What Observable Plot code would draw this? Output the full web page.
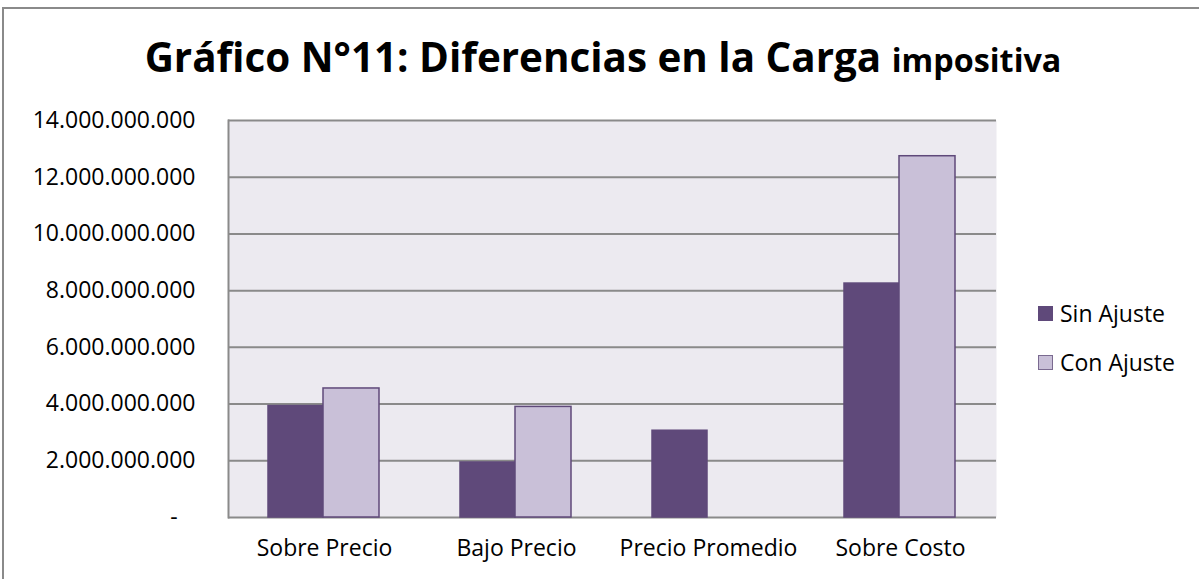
<!DOCTYPE html>
<html>
<head>
<meta charset="utf-8">
<script src="https://cdn.jsdelivr.net/npm/d3@7"></script>
<script src="https://cdn.jsdelivr.net/npm/@observablehq/plot@0.6"></script>
<style>
  html, body { margin: 0; padding: 0; background: #ffffff; overflow: hidden; }
  #wrap { position: relative; width: 1199px; height: 579px; overflow: hidden; font-family: "Open Sans", sans-serif; background: #fff; }
  #borderLeft { position: absolute; left: 2px; top: 7px; width: 2px; height: 600px; background: #8a8a8a; }
  #borderTop { position: absolute; left: 2px; top: 7px; width: 1197px; height: 2px; background: #8a8a8a; }
  #chart { position: absolute; left: 0; top: 0; }
  #title { position: absolute; left: 0; width: 1199px; top: 0; text-align: center; font-weight: 700; color: #000; white-space: nowrap; line-height: 1; }
  #title .small { font-size: 0.8em; }
  .leg { position: absolute; left: 1038px; font-size: 23px; line-height: 24px; height: 24px; color: #000; white-space: nowrap; }
  .leg .sw { display: inline-block; width: 15px; height: 15px; box-sizing: border-box; vertical-align: middle; margin-right: 7px; position: relative; top: -2px; }
</style>
</head>
<body>
<div id="wrap">
  <div id="title"><span id="titleText">Gráfico N°11: Diferencias en la Carga <span class="small">impositiva</span></span></div>
  <div id="chart"></div>
  <div id="legend"></div>
  <div id="borderLeft"></div>
  <div id="borderTop"></div>
</div>
<script>
// ---- Data ----
const categories = ["Sobre Precio", "Bajo Precio", "Precio Promedio", "Sobre Costo"];
const seriesNames = ["Sin Ajuste", "Con Ajuste"];
const sinAjuste = [3930000000, 1940000000, 3060000000, 8250000000];
const conAjuste = [4550000000, 3900000000, null, 12740000000];
const yTicks = [0, 2000000000, 4000000000, 6000000000, 8000000000, 10000000000, 12000000000, 14000000000];

// ---- Styles ----
const colors = { "Sin Ajuste": "#5F497A", "Con Ajuste": "#C9C0D8" };
const strokeColor = "#5F497A";
const gridColor = "#8a8a8a";
const plotBg = "#ECEAF0";

const rows = [];
categories.forEach((c, i) => {
  rows.push({ category: c, series: "Sin Ajuste", value: sinAjuste[i] });
  rows.push({ category: c, series: "Con Ajuste", value: conAjuste[i] });
});
const sinRows = rows.filter(d => d.series === "Sin Ajuste" && d.value != null);
const conRows = rows.filter(d => d.series === "Con Ajuste" && d.value != null);

const loc = d3.formatLocale({ decimal: ",", thousands: ".", grouping: [3], currency: ["", ""] });
const fmt = loc.format(",");
const tickFormat = v => v === 0 ? "-\u00a0\u00a0\u00a0" : fmt(v);

const chart = Plot.plot({
  width: 1199,
  height: 579,
  marginTop: 120,
  marginBottom: 62,
  marginLeft: 228,
  marginRight: 203,
  style: { fontFamily: "Open Sans, sans-serif", fontSize: "23px", color: "#000", background: "transparent" },
  x: { domain: categories, padding: 0, label: null },
  y: { domain: [0, 14000000000], label: null },
  marks: [
    Plot.frame({ fill: plotBg, stroke: null }),
    Plot.ruleY(yTicks, { stroke: gridColor, strokeWidth: 2, strokeOpacity: 1 }),
    Plot.frame({ anchor: "left", stroke: gridColor, strokeWidth: 2, strokeOpacity: 1 }),
    Plot.barY(sinRows, { x: "category", y: "value", fill: colors["Sin Ajuste"], stroke: strokeColor, strokeWidth: 1.5, insetLeft: 40, insetRight: 97 }),
    Plot.barY(conRows, { x: "category", y: "value", fill: colors["Con Ajuste"], stroke: strokeColor, strokeWidth: 1.5, insetLeft: 95, insetRight: 41 }),
    Plot.axisY({ ticks: yTicks, tickSize: 0, tickPadding: 33, tickFormat, fontSize: 23 }),
    Plot.axisX({ tickSize: 0, tickPadding: 22, fontSize: 23 })
  ]
});
document.getElementById("chart").appendChild(chart);

// Legend
const legend = document.getElementById("legend");
const legTops = [301, 350];
seriesNames.forEach((s, i) => {
  const div = document.createElement("div");
  div.className = "leg";
  div.style.top = legTops[i] + "px";
  const sw = document.createElement("span");
  sw.className = "sw";
  sw.style.background = colors[s];
  sw.style.border = "1.5px solid " + (i === 0 ? colors[s] : "#7a6a90");
  div.appendChild(sw);
  div.appendChild(document.createTextNode(s));
  legend.appendChild(div);
});

// Title sizing: fit to reference width and baseline
function fitTitle() {
  const t = document.getElementById("title");
  const span = document.getElementById("titleText");
  let fs = 36;
  t.style.fontSize = fs + "px";
  const w = span.getBoundingClientRect().width;
  fs = fs * 917 / w;
  t.style.fontSize = fs + "px";
  t.style.left = (603 - 1199 / 2) + "px";
  t.style.top = (73 - 0.888 * fs) + "px";
}
fitTitle();
if (document.fonts && document.fonts.ready) document.fonts.ready.then(fitTitle);
</script>
</body>
</html>
